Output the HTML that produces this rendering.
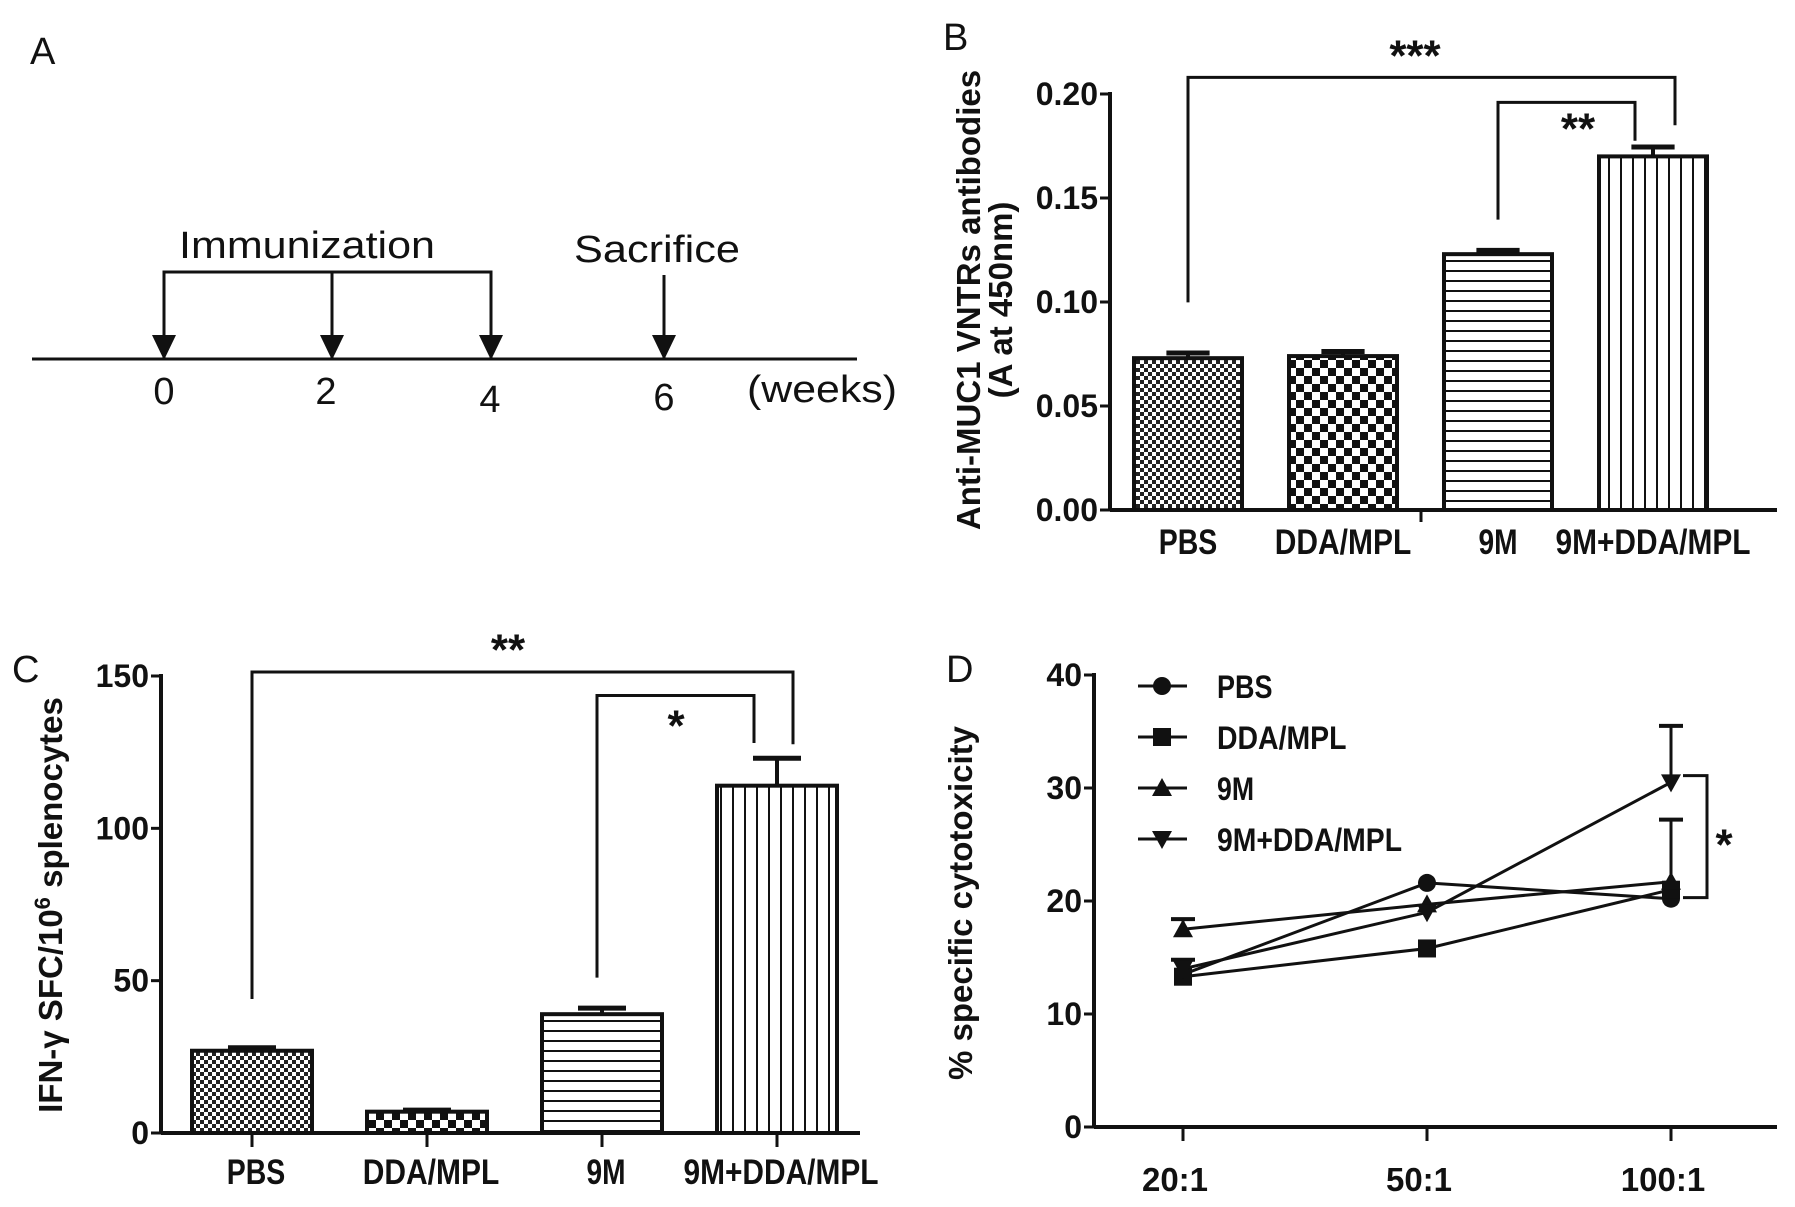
<!DOCTYPE html>
<html><head><meta charset="utf-8"><style>
html,body{margin:0;padding:0;background:#fff}
svg{display:block}
text{font-family:"Liberation Sans",Arial,sans-serif;fill:#111}
.b{font-weight:bold}
</style></head><body>
<svg id="fig" width="1795" height="1207" viewBox="0 0 1795 1207" xmlns="http://www.w3.org/2000/svg">
<defs>
<pattern id="pFine" width="8" height="8" patternUnits="userSpaceOnUse"><rect width="8" height="8" fill="#fff"/><rect width="4" height="4" fill="#222"/><rect x="4" y="4" width="4" height="4" fill="#222"/></pattern>
<pattern id="pCheck" width="16" height="16" patternUnits="userSpaceOnUse"><rect width="16" height="16" fill="#fff"/><rect width="8" height="8" fill="#111"/><rect x="8" y="8" width="8" height="8" fill="#111"/></pattern>
<pattern id="pH" width="10" height="10" patternUnits="userSpaceOnUse"><rect width="10" height="10" fill="#fff"/><rect y="0" width="10" height="2" fill="#111"/></pattern>
<pattern id="pV" width="12" height="12" patternUnits="userSpaceOnUse"><rect width="12" height="12" fill="#fff"/><rect x="0" width="2" height="12" fill="#111"/></pattern>
</defs>

<!-- Panel A -->
<g id="panelA" stroke="#111" stroke-width="3">
<text x="30" y="64" font-size="38" stroke="none">A</text>
<line x1="32" y1="359" x2="857" y2="359"/>
<polyline points="164,359 164,272 491,272 491,359" fill="none"/>
<line x1="332" y1="272" x2="332" y2="359"/>
<line x1="664" y1="275" x2="664" y2="359"/>
<g stroke="none" fill="#111">
<polygon points="152,335 176,335 164,360"/>
<polygon points="320,335 344,335 332,360"/>
<polygon points="479,335 503,335 491,360"/>
<polygon points="652,335 676,335 664,360"/>
</g>
<g stroke="none" font-size="38">
<text x="307" y="258" text-anchor="middle" textLength="256" lengthAdjust="spacingAndGlyphs">Immunization</text>
<text x="657" y="262" text-anchor="middle" textLength="166" lengthAdjust="spacingAndGlyphs">Sacrifice</text>
<text x="164" y="404" text-anchor="middle">0</text>
<text x="326" y="404" text-anchor="middle">2</text>
<text x="490" y="412" text-anchor="middle">4</text>
<text x="664" y="410" text-anchor="middle">6</text>
<text x="822" y="402" text-anchor="middle" textLength="150" lengthAdjust="spacingAndGlyphs">(weeks)</text>
</g>
</g>

<g id="panelB"></g>
<g id="panelC"></g>
<g id="panelD"></g>
</svg>
<script>
// ---- Panel B data ----
const bCategories = ["PBS","DDA/MPL","9M","9M+DDA/MPL"];
const bValues = [0.073, 0.074, 0.123, 0.170];
const bErrors = [0.0025, 0.0022, 0.0018, 0.0045];
const bTicks = ["0.00","0.05","0.10","0.15","0.20"];
// ---- Panel C data ----
const cCategories = ["PBS","DDA/MPL","9M","9M+DDA/MPL"];
const cValues = [27, 7, 39, 114];
const cErrors = [1, 0.5, 2, 9];
const cTicks = ["0","50","100","150"];
// ---- Panel D data ----
const dCategories = ["20:1","50:1","100:1"];
const dPBS = [13.5, 21.6, 20.2];
const dDDA = [13.3, 15.8, 21.0];
const d9M = [17.5, 19.7, 21.7];
const d9MDDA = [14.0, 19.0, 30.5];
const d9MErr = [0.9, 0, 5.5];
const dDDAErr = [1.5, 0, 0];
const d9MDDAErr = [0, 0, 5.0];
const dTicks = ["0","10","20","30","40"];

const NS = "http://www.w3.org/2000/svg";
function mk(parent, tag, attrs, text){
  const e = document.createElementNS(NS, tag);
  for (const k in attrs) e.setAttribute(k, attrs[k]);
  if (text !== undefined) e.textContent = text;
  parent.appendChild(e);
  return e;
}
const patterns = ["url(#pFine)","url(#pCheck)","url(#pH)","url(#pV)"];

function barChart(g, cfg){
  const y = v => cfg.y0 - (v - 0) / cfg.max * (cfg.y0 - cfg.yTop);
  const x = i => cfg.x0 + i * cfg.pitch;
  let ax = mk(g,"line",{x1:cfg.axX,y1:cfg.yTop-2,x2:cfg.axX,y2:cfg.y0+1.5,stroke:"#111","stroke-width":4});
  
  
  let bx = mk(g,"line",{x1:cfg.axX,y1:cfg.y0,x2:cfg.xEnd,y2:cfg.y0,stroke:"#111","stroke-width":4});
  
  
  cfg.ticks.forEach(t=>{
    const v = parseFloat(t), yy = y(v);
    const tl = mk(g,"line",{x1:cfg.axX-10,y1:yy,x2:cfg.axX,y2:yy,stroke:"#111","stroke-width":3});
    
    
    const tx = mk(g,"text",{x:cfg.axX-12,y:yy+11,"font-size":32,"text-anchor":"end","class":"b"},t);
    
    
  });
  cfg.cats.forEach((c,i)=>{
    const cx = x(i), top = y(cfg.vals[i]), et = y(cfg.vals[i]+cfg.errs[i]);
    const eb = mk(g,"line",{x1:cx,y1:top,x2:cx,y2:et,stroke:"#111","stroke-width":4});
    
    
    const ec = mk(g,"line",{x1:cx-cfg.w*0.2,y1:et,x2:cx+cfg.w*0.2,y2:et,stroke:"#111","stroke-width":5});
    
    
    const r = mk(g,"rect",{x:cx-cfg.w/2,y:top,width:cfg.w,height:cfg.y0-top,fill:patterns[i],stroke:"#111","stroke-width":4});
    
    
    if (cfg.catTicks){
      const ct = mk(g,"line",{x1:cx,y1:cfg.y0,x2:cx,y2:cfg.y0+14,stroke:"#111","stroke-width":3});
      
      
    }
    const lb = mk(g,"text",{x:cx+(cfg.labDx||0),y:cfg.labY,"font-size":35,"text-anchor":"middle","class":"b",textLength:c.length*19.5,lengthAdjust:"spacingAndGlyphs"},c);
    
    
  });
  cfg.brackets.forEach(b=>{
    const p = mk(g,"polyline",{points:`${x(b.i)+b.dx1},${y(b.l)} ${x(b.i)+b.dx1},${y(b.top)} ${x(b.j)+b.dx2},${y(b.top)} ${x(b.j)+b.dx2},${y(b.r)}`,fill:"none",stroke:"#111","stroke-width":3});
    
    
    const s = mk(g,"text",{x:b.sx,y:y(b.sy)+16,"font-size":44,"text-anchor":"middle","class":"b"},b.s);
    
    
  });
}

// Panel B
const gB = document.getElementById("panelB");
let lbB = mk(gB,"text",{x:943,y:50,"font-size":38},"B");


barChart(gB,{cats:bCategories,vals:bValues,errs:bErrors,ticks:bTicks,max:0.20,
  y0:510,yTop:94,axX:1110,xEnd:1777,x0:1188,pitch:155,w:108,labY:554,catTicks:false,
  brackets:[{i:0,j:3,dx1:0,dx2:22,top:0.208,l:0.0998,r:0.185,s:"***",sx:1415,sy:0.219},
            {i:2,j:3,dx1:0,dx2:-18,top:0.196,l:0.1396,r:0.1775,s:"**",sx:1578,sy:0.184}]});
let midT = mk(gB,"line",{x1:1421,y1:510,x2:1421,y2:522,stroke:"#111","stroke-width":3});


let ytB = mk(gB,"text",{x:0,y:0,"font-size":33,"class":"b","text-anchor":"middle",transform:"translate(980,300) rotate(-90)"},"Anti-MUC1 VNTRs antibodies");


let ytB2 = mk(gB,"text",{x:0,y:0,"font-size":33,"class":"b","text-anchor":"middle",transform:"translate(1012,300) rotate(-90)"},"(A at 450nm)");



// Panel C
const gC = document.getElementById("panelC");
let lbC = mk(gC,"text",{x:12,y:682,"font-size":38},"C");


barChart(gC,{cats:cCategories,vals:cValues,errs:cErrors,ticks:cTicks,max:150,
  y0:1133,yTop:676,axX:161,xEnd:860,x0:252,pitch:175,w:120,labY:1184,catTicks:true,labDx:4,
  brackets:[{i:0,j:3,dx1:0,dx2:16,top:151.3,l:44,r:127.6,s:"**",sx:508,sy:159},
            {i:2,j:3,dx1:-5,dx2:-23,top:143.6,l:51,r:128,s:"*",sx:676,sy:134}]});
let ytC = mk(gC,"text",{x:0,y:0,"font-size":33,"class":"b","text-anchor":"middle",transform:"translate(62,905) rotate(-90)"});


ytC.innerHTML = 'IFN-γ  SFC/10<tspan dy="-12" font-size="22">6</tspan><tspan dy="12"> splenocytes</tspan>';

// Panel D
const gD = document.getElementById("panelD");
let lbD = mk(gD,"text",{x:946,y:682,"font-size":38},"D");


const dY0 = 1127, dYTop = 675, dMax = 40, dAx = 1094;
const dy = v => dY0 - v / dMax * (dY0 - dYTop);
const dx = i => 1183 + i * 244;
let dyA = mk(gD,"line",{x1:dAx,y1:dYTop-2,x2:dAx,y2:dY0+1.5,stroke:"#111","stroke-width":4});


let dxA = mk(gD,"line",{x1:dAx,y1:dY0,x2:1777,y2:dY0,stroke:"#111","stroke-width":4});


dTicks.forEach(t=>{
  const yy = dy(parseFloat(t));
  const tl = mk(gD,"line",{x1:dAx-10,y1:yy,x2:dAx,y2:yy,stroke:"#111","stroke-width":3});
  
  
  const tx = mk(gD,"text",{x:dAx-12,y:yy+11,"font-size":32,"text-anchor":"end","class":"b"},t);
  
  
});
dCategories.forEach((c,i)=>{
  const tl = mk(gD,"line",{x1:dx(i),y1:dY0,x2:dx(i),y2:dY0+14,stroke:"#111","stroke-width":3});
  
  
  const tx = mk(gD,"text",{x:dx(i)-8,y:1191,"font-size":33,"text-anchor":"middle","class":"b"},c);
  
  
});
let ytD = mk(gD,"text",{x:0,y:0,"font-size":33,"class":"b","text-anchor":"middle",transform:"translate(972,903) rotate(-90)"},"% specific cytotoxicity");



function marker(g, shape, cx, cy){
  let e;
  if (shape==="circle") e = mk(g,"circle",{cx:cx,cy:cy,r:9,fill:"#111"});
  else if (shape==="square") e = mk(g,"rect",{x:cx-9,y:cy-9,width:18,height:18,fill:"#111"});
  else if (shape==="up") e = mk(g,"polygon",{points:`${cx-10},${cy+8} ${cx+10},${cy+8} ${cx},${cy-10}`,fill:"#111"});
  else e = mk(g,"polygon",{points:`${cx-10},${cy-8} ${cx+10},${cy-8} ${cx},${cy+10}`,fill:"#111"});
  return e;
}
function errs(g, vals, er){
  vals.forEach((v,i)=>{
    if (!er[i]) return;
    const l = mk(g,"line",{x1:dx(i),y1:dy(v),x2:dx(i),y2:dy(v+er[i]),stroke:"#111","stroke-width":3});
    
    
    const c = mk(g,"line",{x1:dx(i)-12,y1:dy(v+er[i]),x2:dx(i)+12,y2:dy(v+er[i]),stroke:"#111","stroke-width":4});
    
    
  });
}
errs(gD, d9M, d9MErr);
errs(gD, dDDA, dDDAErr);
errs(gD, d9MDDA, d9MDDAErr);
const series = [["PBS",dPBS,"circle"],["DDA/MPL",dDDA,"square"],["9M",d9M,"up"],["9M+DDA/MPL",d9MDDA,"down"]];
series.forEach((s,k)=>{
  const pl = mk(gD,"polyline",{points:s[1].map((v,i)=>dx(i)+","+dy(v)).join(" "),fill:"none",stroke:"#111","stroke-width":3});
  
  
  s[1].forEach((v,i)=>{
    const m = marker(gD, s[2], dx(i), dy(v));
    
    
  });
  const ly = 686 + k*51;
  const ll = mk(gD,"line",{x1:1138,y1:ly,x2:1187,y2:ly,stroke:"#111","stroke-width":3});
  
  
  const lm = marker(gD, s[2], 1162, ly);
  
  
  const lt = mk(gD,"text",{x:1217,y:ly+12,"font-size":32,"class":"b",textLength:s[0].length*18.5,lengthAdjust:"spacingAndGlyphs"},s[0]);
  
  
});
let brD = mk(gD,"polyline",{points:`1683,${dy(31.1)} 1707,${dy(31.1)} 1707,${dy(20.3)} 1683,${dy(20.3)}`,fill:"none",stroke:"#111","stroke-width":3});


let stD = mk(gD,"text",{x:1724,y:dy(25.8)+24,"font-size":44,"text-anchor":"middle","class":"b"},"*");


</script>
</body></html>
